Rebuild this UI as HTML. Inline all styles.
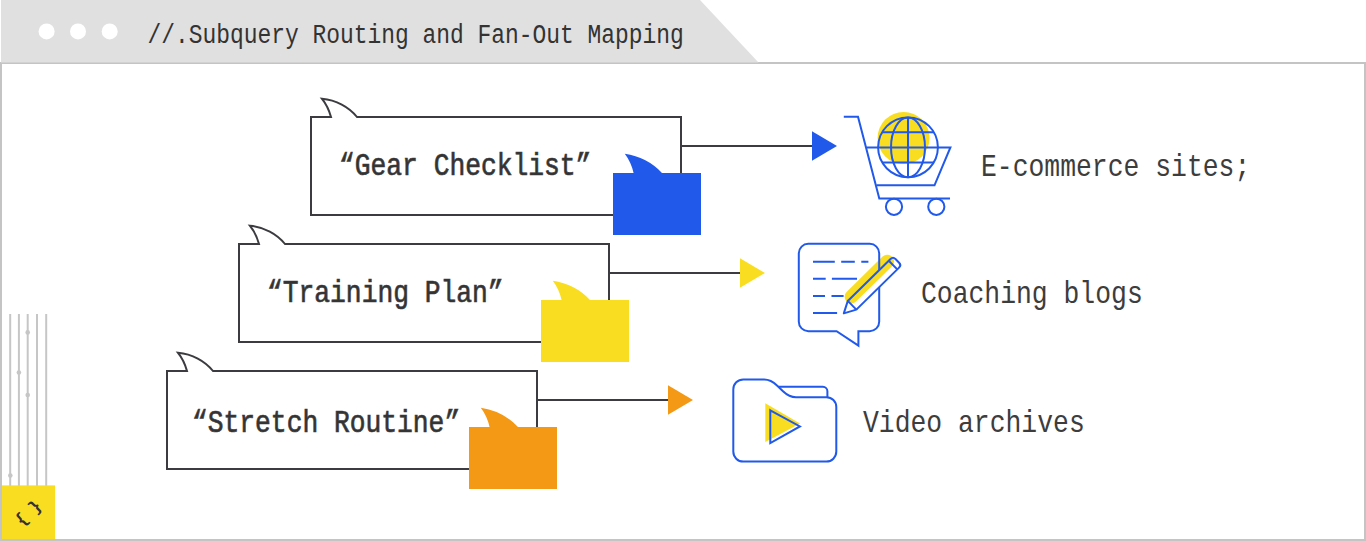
<!DOCTYPE html>
<html><head><meta charset="utf-8">
<style>
html,body{margin:0;padding:0;background:#fff;width:1366px;height:541px;overflow:hidden;position:relative}
.t{position:absolute;white-space:pre;font-family:"Liberation Mono",monospace;color:#333;transform-origin:0 0;line-height:1}
svg{position:absolute;left:0;top:0}
</style></head><body>
<svg width="1366" height="541" viewBox="0 0 1366 541">
  <!-- frame -->
  <rect x="1" y="63" width="1364" height="477" fill="#fff" stroke="#c4c4c4" stroke-width="2"/>
  <!-- tab -->
  <polygon points="1,0 700,0 758.5,62.5 1,62.5" fill="#e0e0e0"/>
  <circle cx="46.6" cy="31.4" r="8" fill="#fff"/>
  <circle cx="78" cy="31.4" r="8" fill="#fff"/>
  <circle cx="109.7" cy="31.4" r="8" fill="#fff"/>

  <!-- left deco -->
  <g stroke="#c6c6c6" stroke-width="2">
    <line x1="10.2" y1="314" x2="10.2" y2="486"/>
    <line x1="18.9" y1="314" x2="18.9" y2="486"/>
    <line x1="27.7" y1="314" x2="27.7" y2="486"/>
    <line x1="37" y1="314" x2="37" y2="486"/>
    <line x1="46.2" y1="314" x2="46.2" y2="486"/>
  </g>
  <g fill="#c6c6c6">
    <circle cx="27.7" cy="332.4" r="2.3"/>
    <circle cx="18.9" cy="372.5" r="2.3"/>
    <circle cx="27.7" cy="395" r="2.3"/>
    <circle cx="10.3" cy="475.5" r="2.3"/>
  </g>
  <rect x="2" y="485.4" width="53.1" height="53.6" fill="#f9dd21"/>

  <!-- box groups -->
  <g id="b1">
    <line x1="681" y1="146" x2="813" y2="146" stroke="#3c3c40" stroke-width="2"/>
    <path d="M331 117 H311 V215 H681 V117 H357 C349 107 336 100 322 98.8 Q328 106 331 117 Z" fill="#fff" stroke="#3c3c40" stroke-width="2" stroke-linejoin="miter"/>
    <path d="M613 173 H701 V235 H613 Z M633.6 173 Q631 162 624.8 153.8 Q647 157 662 173 Z" fill="#2159ea"/>
    <polygon points="812,131.3 837,146 812,160.7" fill="#2159ea"/>
  </g>
  <g transform="translate(-72 127)">
    <line x1="681" y1="146" x2="813" y2="146" stroke="#3c3c40" stroke-width="2"/>
    <path d="M331 117 H311 V215 H681 V117 H357 C349 107 336 100 322 98.8 Q328 106 331 117 Z" fill="#fff" stroke="#3c3c40" stroke-width="2"/>
    <path d="M613 173 H701 V235 H613 Z M633.6 173 Q631 162 624.8 153.8 Q647 157 662 173 Z" fill="#f9dd21"/>
    <polygon points="812,131.3 837,146 812,160.7" fill="#f9dd21"/>
  </g>
  <g transform="translate(-144 254)">
    <line x1="681" y1="146" x2="813" y2="146" stroke="#3c3c40" stroke-width="2"/>
    <path d="M331 117 H311 V215 H681 V117 H357 C349 107 336 100 322 98.8 Q328 106 331 117 Z" fill="#fff" stroke="#3c3c40" stroke-width="2"/>
    <path d="M613 173 H701 V235 H613 Z M633.6 173 Q631 162 624.8 153.8 Q647 157 662 173 Z" fill="#f49916"/>
    <polygon points="812,131.3 837,146 812,160.7" fill="#f49916"/>
  </g>

  <!-- cart icon -->
  <circle cx="903.6" cy="138" r="26" fill="#f9dd21"/>
  <g fill="none" stroke="#2159ea" stroke-width="2">
    <path d="M843.8 116.7 H858 L879.3 198.5 H950"/>
    <path d="M866.5 147.5 H950.4 L934.5 185.3 H876.5"/>
    <circle cx="894" cy="206.8" r="8.1"/>
    <circle cx="936.3" cy="206.8" r="8.1"/>
    <circle cx="908" cy="147.3" r="29.9"/>
    <ellipse cx="908" cy="147.3" rx="17" ry="29.9"/>
    <line x1="908" y1="117.4" x2="908" y2="177.2"/>
    <line x1="882" y1="132.2" x2="934" y2="132.2"/>
    <line x1="882" y1="162.4" x2="934" y2="162.4"/>
  </g>

  <!-- doc icon -->
  <defs><clipPath id="pb"><polygon points="0,0 11.6,-6.1 75,-6.1 75,6.1 11.6,6.1"/></clipPath></defs>
  <g transform="translate(843.8 313.4) rotate(-44.5)">
    <line x1="17" y1="-6.6" x2="67.5" y2="-6.6" stroke="#f9dd21" stroke-width="13.5" stroke-linecap="round"/>
  </g>
  <g fill="none" stroke="#2159ea" stroke-width="2">
    <path d="M836.6 331.2 H808.3 A9.5 9.5 0 0 1 798.8 321.7 V253.3 A9.5 9.5 0 0 1 808.3 243.8 H869.7 A9.5 9.5 0 0 1 879.2 253.3 V321.7 A9.5 9.5 0 0 1 869.7 331.2 H858.4 V345.7 Z"/>
    <path d="M813 261.7 H834.8 M841.2 261.7 H854.8 M861.3 261.7 H868.4 M813 278.7 H825.7 M831.9 278.7 H857 M813 295.9 H825 M831.5 295.9 H843.6 M813 313 H837.1"/>
  </g>
  <g transform="translate(843.8 313.4) rotate(-44.5)">
    <polygon points="0,0 11.6,-6.1 75,-6.1 75,6.1 11.6,6.1" fill="#fff"/>
    <line x1="17" y1="-6.6" x2="67.5" y2="-6.6" stroke="#f9dd21" stroke-width="13.5" stroke-linecap="round" clip-path="url(#pb)"/>
    <g fill="none" stroke="#2159ea" stroke-width="2" stroke-linejoin="round">
      <path d="M11.6 -6.1 L0 0 L11.6 6.1 Z"/>
      <path d="M11.6 -6.1 H71.5 Q75 -6.1 75 -2.6 V2.6 Q75 6.1 71.5 6.1 H11.6"/>
      <line x1="69" y1="-6.1" x2="69" y2="6.1"/>
    </g>
  </g>

  <!-- folder icon -->
  <polygon points="765.3,403.3 800,423.6 765.3,442.1" fill="#f9dd21"/>
  <g fill="none" stroke="#2159ea" stroke-width="2">
    <path d="M743.3 461.6 A10 10 0 0 1 733.3 451.6 V389.4 A10 10 0 0 1 743.3 379.4 H764.2 C770 379.4 773 381.5 777 385.5 L783 391.2 C787 395 790 397.2 796 397.2 H826.5 A9.8 9.8 0 0 1 836.3 407 V451.6 A10 10 0 0 1 826.3 461.6 Z"/>
    <path d="M778.6 386.8 H822.9 A4.5 4.5 0 0 1 827.4 391.3 V397.2"/>
    <polygon points="770.3,410.3 799.9,426.4 770.3,443"/>
  </g>
</svg>

<svg width="1366" height="541" viewBox="0 0 1366 541" style="font-family:'Liberation Mono',monospace">
  <g fill="#333">
    <text transform="translate(147.4 43.4) scale(1 1.23)" font-size="22.92">//.Subquery Routing and Fan-Out Mapping</text>
    <g font-size="26.3" stroke="#3c3c40" stroke-width="0.6">
      <text transform="translate(339 175.2) scale(1 1.18)">“Gear Checklist”</text>
      <text transform="translate(267 302) scale(1 1.18)">“Training Plan”</text>
      <text transform="translate(192 431.5) scale(1 1.18)">“Stretch Routine”</text>
    </g>
    <g font-size="26.4" fill="#3d3d3d">
      <text transform="translate(981 176) scale(1 1.22)">E-commerce sites;</text>
      <text transform="translate(921 303) scale(1 1.22)">Coaching blogs</text>
      <text transform="translate(863 432) scale(1 1.22)">Video archives</text>
    </g>
    <g font-size="17" font-weight="bold" text-anchor="middle">
      <text transform="translate(21.5 518.9) rotate(-45)" y="5.5">{</text>
      <text transform="translate(34.6 506.5) rotate(-45)" y="5.5">}</text>
    </g>
  </g>
</svg>
</body></html>
